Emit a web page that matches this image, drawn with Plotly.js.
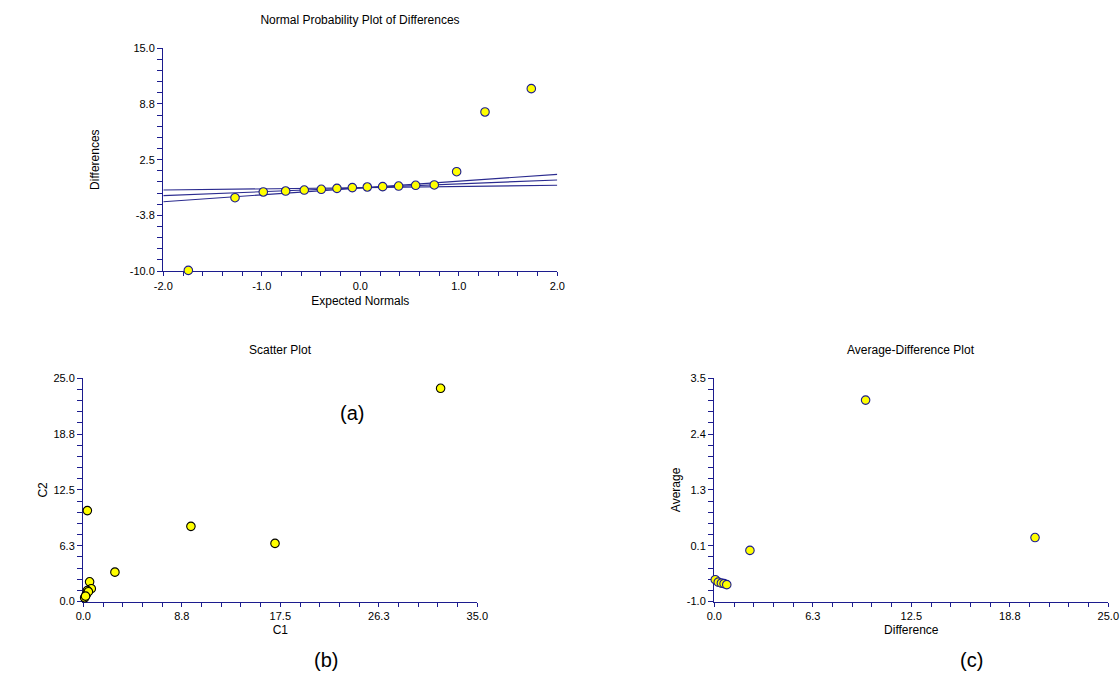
<!DOCTYPE html>
<html>
<head>
<meta charset="utf-8">
<script src="https://cdn.plot.ly/plotly-3.0.1.min.js"></script>
<style>
  html, body { margin: 0; padding: 0; background: #ffffff; }
  #chart { width: 1120px; height: 678px; }
</style>
</head>
<body>
<div id="chart"></div>
<script>
// ---------- Data ----------
// (a) Normal probability plot of differences
const expectedNormals = [-1.746, -1.272, -0.985, -0.758, -0.569, -0.396, -0.237, -0.081, 0.071, 0.227, 0.389, 0.562, 0.751, 0.978, 1.266, 1.736];
const differences     = [-9.93, -1.77, -1.13, -1.02, -0.91, -0.83, -0.72, -0.64, -0.57, -0.53, -0.46, -0.38, -0.34, 1.15, 7.85, 10.47];
const bandX      = [-2.0, 2.0];
const bandFlatY  = [-0.91, -0.38];
const fitLineY   = [-1.54, 0.22];
const bandSteepY = [-2.22, 0.85];

// (b) Scatter plot C1 vs C2
const c1 = [31.74, 0.36, 9.56, 17.03, 2.81, 0.56, 0.71, 0.36, 0.27, 0.12, 0.45, 0.20];
const c2 = [23.88, 10.18, 8.42, 6.51, 3.29, 2.21, 1.43, 1.23, 0.79, 0.42, 1.10, 0.60];

// (c) Average-difference plot
const adDifference = [9.60, 20.35, 2.26, 0.06, 0.25, 0.45, 0.62, 0.79];
const adAverage    = [3.06, 0.29, 0.03, -0.56, -0.61, -0.63, -0.64, -0.66];

// Tick labels
const normXTicks = [-2, -1, 0, 1, 2];
const normXText  = ['-2.0', '-1.0', '0.0', '1.0', '2.0'];
const normYTicks = [-10, -3.75, 2.5, 8.75, 15];
const normYText  = ['-10.0', '-3.8', '2.5', '8.8', '15.0'];
const c1Ticks = [0, 8.75, 17.5, 26.25, 35];
const c1Text  = ['0.0', '8.8', '17.5', '26.3', '35.0'];
const c2Ticks = [0, 6.25, 12.5, 18.75, 25];
const c2Text  = ['0.0', '6.3', '12.5', '18.8', '25.0'];
const diffTicks = [0, 6.25, 12.5, 18.75, 25];
const diffText  = ['0.0', '6.3', '12.5', '18.8', '25.0'];
const avgTicks = [-1, 0.125, 1.25, 2.375, 3.5];
const avgText  = ['-1.0', '0.1', '1.3', '2.4', '3.5'];

// ---------- Styles ----------
const FONT = 'Liberation Sans, Arial, Helvetica, sans-serif';
const AXIS_COLOR = '#1c1c8e';
const W = 1120, H = 678;
const px = v => v / W;
const py = v => 1 - v / H;

function axis(domain, range, tickvals, ticktext, minorTick0, minorDtick, title, isY, anchor, standoff) {
  return {
    domain: domain,
    range: range,
    anchor: anchor,
    autorange: false,
    tickmode: 'array',
    tickvals: tickvals,
    ticktext: ticktext,
    ticks: 'outside',
    ticklen: isY ? 5 : 4,
    tickwidth: 1,
    tickcolor: AXIS_COLOR,
    minor: { tickmode: 'linear', tick0: minorTick0, dtick: minorDtick, ticks: 'outside',
             ticklen: isY ? 5 : 4, tickwidth: 1, tickcolor: AXIS_COLOR, showgrid: false },
    showline: true,
    linecolor: AXIS_COLOR,
    linewidth: 1.3,
    showgrid: false,
    zeroline: false,
    layer: 'below traces',
    tickfont: { family: FONT, size: 11, color: '#000000' },
    title: { text: title, font: { family: FONT, size: 12, color: '#000000' }, standoff: standoff },
    fixedrange: true
  };
}

const marker = (lineColor) => ({
  symbol: 'circle', size: 8.5, color: '#ffff00',
  line: { color: lineColor, width: 1.1 }
});
const bandLine = { color: '#2b2b8f', width: 1.1 };

const traces = [
  { x: bandX, y: bandFlatY, xaxis: 'x', yaxis: 'y', mode: 'lines', line: bandLine, hoverinfo: 'skip', showlegend: false },
  { x: bandX, y: fitLineY, xaxis: 'x', yaxis: 'y', mode: 'lines', line: bandLine, hoverinfo: 'skip', showlegend: false },
  { x: bandX, y: bandSteepY, xaxis: 'x', yaxis: 'y', mode: 'lines', line: bandLine, hoverinfo: 'skip', showlegend: false },
  { x: expectedNormals, y: differences, xaxis: 'x', yaxis: 'y', mode: 'markers', type: 'scatter',
    marker: marker('#1c1c8e'), cliponaxis: false, showlegend: false },
  { x: c1, y: c2, xaxis: 'x2', yaxis: 'y2', mode: 'markers', type: 'scatter',
    marker: marker('#000000'), cliponaxis: false, showlegend: false },
  { x: adDifference, y: adAverage, xaxis: 'x3', yaxis: 'y3', mode: 'markers', type: 'scatter',
    marker: marker('#1c1c8e'), cliponaxis: false, showlegend: false }
];

const domA_x = [px(163.3), px(557.3)], domA_y = [py(271), py(48.3)];
const domB_x = [px(83.3), px(477.3)],  domB_y = [py(601.5), py(378.3)];
const domC_x = [px(714.3), px(1108.3)], domC_y = [py(601.5), py(378.3)];

const layout = {
  width: W, height: H,
  margin: { l: 0, r: 0, t: 0, b: 0 },
  paper_bgcolor: '#ffffff',
  plot_bgcolor: '#ffffff',
  showlegend: false,
  font: { family: FONT, color: '#000000' },
  title: { text: 'Normal Probability Plot of Differences', x: px(360), xanchor: 'center',
           xref: 'paper', y: 1 - 20 / H, yanchor: 'middle', yref: 'container',
           font: { family: FONT, size: 12, color: '#000000' } },
  xaxis:  axis(domA_x, [-2, 2], normXTicks, normXText, -2, 0.2, 'Expected Normals', false, 'y', 6),
  yaxis:  axis(domA_y, [-10, 15], normYTicks, normYText, -10, 1.25, 'Differences', true, 'x', 27),
  xaxis2: axis(domB_x, [0, 35], c1Ticks, c1Text, 0, 1.75, 'C1', false, 'y2', 4),
  yaxis2: axis(domB_y, [0, 25], c2Ticks, c2Text, 0, 1.25, 'C2', true, 'x2', 3),
  xaxis3: axis(domC_x, [0, 25], diffTicks, diffText, 0, 1.25, 'Difference', false, 'y3', 4),
  yaxis3: axis(domC_y, [-1, 3.5], avgTicks, avgText, -1, 0.225, 'Average', true, 'x3', 3),
  annotations: [
    { text: 'Scatter Plot', x: px(280.3), y: py(350), xref: 'paper', yref: 'paper',
      xanchor: 'center', yanchor: 'middle', showarrow: false, font: { family: FONT, size: 12, color: '#000000' } },
    { text: 'Average-Difference Plot', x: px(911.3), y: py(350), xref: 'paper', yref: 'paper',
      xanchor: 'center', yanchor: 'middle', showarrow: false, font: { family: FONT, size: 12, color: '#000000' } },
    { text: '(a)', x: px(352), y: py(413), xref: 'paper', yref: 'paper',
      xanchor: 'center', yanchor: 'middle', showarrow: false, font: { family: FONT, size: 20, color: '#000000' } },
    { text: '(b)', x: px(326), y: py(660), xref: 'paper', yref: 'paper',
      xanchor: 'center', yanchor: 'middle', showarrow: false, font: { family: FONT, size: 20, color: '#000000' } },
    { text: '(c)', x: px(971), y: py(660), xref: 'paper', yref: 'paper',
      xanchor: 'center', yanchor: 'middle', showarrow: false, font: { family: FONT, size: 20, color: '#000000' } }
  ]
};

Plotly.newPlot('chart', traces, layout, { displayModeBar: false, staticPlot: true });
</script>
</body>
</html>
